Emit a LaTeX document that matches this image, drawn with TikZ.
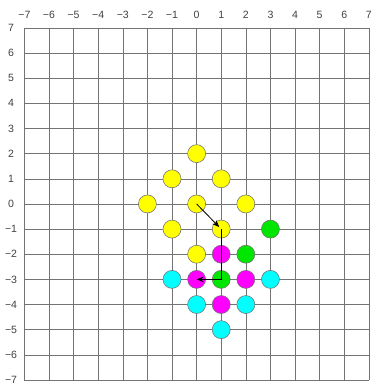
\documentclass[tikz,border=0pt]{standalone}
\usepackage{fontspec}
\setsansfont{Liberation Sans}
\usetikzlibrary{arrows.meta}
\definecolor{dotyellow}{RGB}{255,255,0}
\definecolor{dotgreen}{RGB}{0,230,0}
\definecolor{dotmagenta}{RGB}{255,0,255}
\definecolor{dotcyan}{RGB}{0,255,255}
\newcommand{\signednum}[1]{\ifnum#1<0 −\the\numexpr-#1\relax\else#1\fi}
\begin{document}
\begin{tikzpicture}[x=0.615cm,y=0.6285cm,
  dot/.style={circle,draw=black!55,thin,minimum size=0.45cm,inner sep=0pt},
  lbl/.style={font=\sffamily\fontsize{7.5}{9}\selectfont,text=black!75,inner sep=0pt},
  move/.style={-{Stealth[length=5pt,width=4pt]},semithick}]
\useasboundingbox (-7.99,-7.16) rectangle (7.42,8.11);
% grid and axis numbers
\foreach \i in {-7,...,7} {
  \draw[black!55,thin] (\i,-7) -- (\i,7);
  \draw[black!55,thin] (-7,\i) -- (7,\i);
  \node[lbl] (top\i) at (\i,7.52) {\signednum{\i}};
  \node[lbl] (left\i) at (-7.54,\i) {\signednum{\i}};
}
% yellow
\node[dot,fill=dotyellow] (y1) at (0,2) {};
\node[dot,fill=dotyellow] (y2) at (-1,1) {};
\node[dot,fill=dotyellow] (y3) at (1,1) {};
\node[dot,fill=dotyellow] (y4) at (-2,0) {};
\node[dot,fill=dotyellow] (start) at (0,0) {};
\node[dot,fill=dotyellow] (y6) at (2,0) {};
\node[dot,fill=dotyellow] (y7) at (-1,-1) {};
\node[dot,fill=dotyellow] (turn) at (1,-1) {};
\node[dot,fill=dotyellow] (y9) at (0,-2) {};
% green
\node[dot,fill=dotgreen] (g1) at (3,-1) {};
\node[dot,fill=dotgreen] (g2) at (2,-2) {};
\node[dot,fill=dotgreen] (corner) at (1,-3) {};
% magenta
\node[dot,fill=dotmagenta] (m1) at (1,-2) {};
\node[dot,fill=dotmagenta] (goal) at (0,-3) {};
\node[dot,fill=dotmagenta] (m3) at (2,-3) {};
\node[dot,fill=dotmagenta] (m4) at (1,-4) {};
% cyan
\node[dot,fill=dotcyan] (c1) at (-1,-3) {};
\node[dot,fill=dotcyan] (c2) at (3,-3) {};
\node[dot,fill=dotcyan] (c3) at (0,-4) {};
\node[dot,fill=dotcyan] (c4) at (2,-4) {};
\node[dot,fill=dotcyan] (c5) at (1,-5) {};
% moves
\draw[move,shorten >=2pt] (start.center) -- (turn.center);
\draw[move] (turn.center) -- (corner.center) -- (goal.center);
\end{tikzpicture}
\end{document}
